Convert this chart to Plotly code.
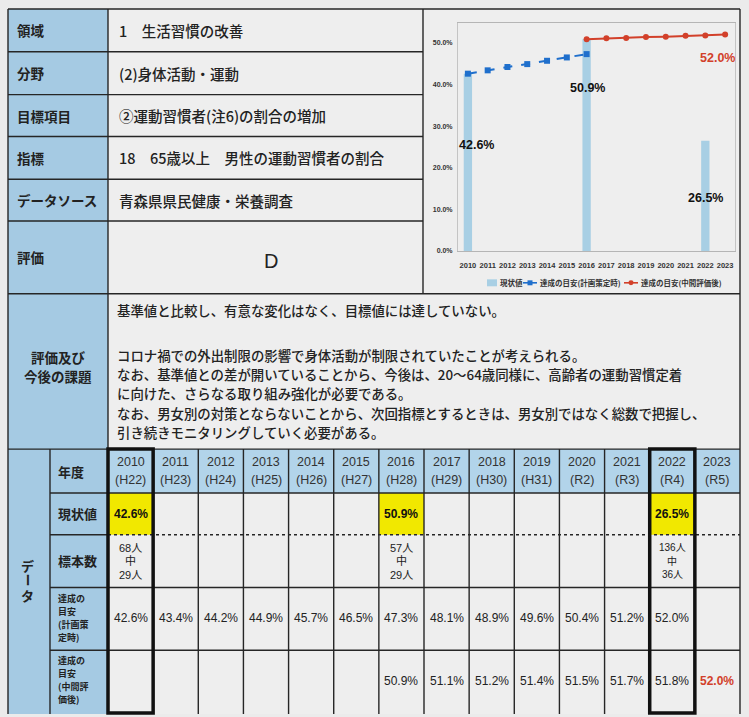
import plotly.graph_objects as go

# ---------------- data ----------------
years = list(range(2010, 2024))
era_labels = ["H22", "H23", "H24", "H25", "H26", "H27", "H28", "H29", "H30", "H31", "R2", "R3", "R4", "R5"]
current_values = [42.6, None, None, None, None, None, 50.9, None, None, None, None, None, 26.5, None]
sample_totals = [68, None, None, None, None, None, 57, None, None, None, None, None, 136, None]
sample_hits = [29, None, None, None, None, None, 29, None, None, None, None, None, 36, None]
plan_targets = [42.6, 43.4, 44.2, 44.9, 45.7, 46.5, 47.3, 48.1, 48.9, 49.6, 50.4, 51.2, 52.0, None]
mid_targets = [None, None, None, None, None, None, 50.9, 51.1, 51.2, 51.4, 51.5, 51.7, 51.8, 52.0]
chart_plan_count = 7  # plan line drawn in chart up to 2016
y_tick_values = [0, 10, 20, 30, 40, 50]

info_labels = ["領域", "分野", "目標項目", "指標", "データソース", "評価"]
info_values = ["1　生活習慣の改善", "(2)身体活動・運動", "②運動習慣者(注6)の割合の増加",
               "18　65歳以上　男性の運動習慣者の割合", "青森県県民健康・栄養調査", ""]
evaluation_grade = "D"
issue_label = ["評価及び", "今後の課題"]
issue_lines = [
    "基準値と比較し、有意な変化はなく、目標値には達していない。",
    "コロナ禍での外出制限の影響で身体活動が制限されていたことが考えられる。",
    "なお、基準値との差が開いていることから、今後は、20～64歳同様に、高齢者の運動習慣定着",
    "に向けた、さらなる取り組み強化が必要である。",
    "なお、男女別の対策とならないことから、次回指標とするときは、男女別ではなく総数で把握し、",
    "引き続きモニタリングしていく必要がある。",
]
data_section_label = ["デ", "ー", "タ"]
row_labels = [["年度"], ["現状値"], ["標本数"],
              ["達成の", "目安", "(計画策", "定時)"], ["達成の", "目安", "(中間評", "価後)"]]
series_names = ["現状値", "達成の目安(計画策定時)", "達成の目安(中間評価後)"]
highlight_years = [2010, 2022]

# ---------------- style / geometry ----------------
W, H = 749, 717
BG = "#ebebeb"
CELL = "#eeeeee"
LBLUE = "#a5cae3"
HBLUE = "#b2d4ea"
YELLOW = "#f1e800"
LINE = "#262626"
BAR_C = "#a8cfe4"
PLAN_C = "#1f6fcc"
MID_C = "#d2402a"
JP = "Noto Sans CJK JP"
NUM = "Liberation Sans, Noto Sans CJK JP"

X_LEFT, X_LAB, X_CHART, X_RIGHT = 8, 108, 423, 740
X_DATA_LAB = 50
Y_TOP = 9
INFO_ROWS = [9, 52, 95, 137, 180, 222, 295]
Y_ISSUE_BOTTOM = 451
DATA_ROWS = [451, 495, 537, 590, 653, 717]
ncol = len(years)
COLS = [X_LAB + (X_RIGHT - X_LAB) * i / ncol for i in range(ncol + 1)]


def fx(x):
    return x / W


def fy(y):
    return 1 - y / H


shapes = []
annotations = []


def rect(x0, y0, x1, y1, fill, lw=0, lc=None, layer="below"):
    shapes.append(dict(type="rect", xref="paper", yref="paper",
                       x0=fx(x0), x1=fx(x1), y0=fy(y1), y1=fy(y0),
                       fillcolor=fill, line=dict(width=lw, color=lc or "rgba(0,0,0,0)"), layer=layer))


def seg(x0, y0, x1, y1, w=1.4, color=LINE, dash="solid"):
    shapes.append(dict(type="line", xref="paper", yref="paper",
                       x0=fx(x0), x1=fx(x1), y0=fy(y0), y1=fy(y1),
                       line=dict(width=w, color=color, dash=dash), layer="above"))


def text(x, y, s, size, color="#222", weight=400, anchor="left", family=JP, angle=0):
    annotations.append(dict(xref="paper", yref="paper", x=fx(x), y=fy(y), text=s, showarrow=False,
                            xanchor=anchor, yanchor="middle", textangle=angle, borderpad=0,
                            font=dict(size=size, color=color, family=family, weight=weight)))


def lines(x, ys, parts, size, **kw):
    for s, y in zip(parts, ys):
        text(x, y, s, size, **kw)


# backgrounds
rect(X_LEFT, Y_TOP, X_LAB, DATA_ROWS[-1], LBLUE)
rect(X_LAB, Y_TOP, X_CHART, INFO_ROWS[-1], CELL)
rect(X_CHART, Y_TOP, X_RIGHT, INFO_ROWS[-1], CELL)
rect(X_LAB, INFO_ROWS[-1], X_RIGHT, Y_ISSUE_BOTTOM, CELL)
rect(X_LAB, DATA_ROWS[0], X_RIGHT, DATA_ROWS[1], HBLUE)
rect(X_LAB, DATA_ROWS[1], X_RIGHT, DATA_ROWS[-1], CELL)
for i, v in enumerate(current_values):
    if v is not None:
        rect(COLS[i], DATA_ROWS[1], COLS[i + 1], DATA_ROWS[2], YELLOW)

# info section lines
seg(X_LEFT, Y_TOP, X_RIGHT, Y_TOP)
for y in INFO_ROWS[1:-1]:
    seg(X_LEFT, y, X_CHART, y)
seg(X_LEFT, INFO_ROWS[-1], X_RIGHT, INFO_ROWS[-1])
seg(X_LEFT, Y_ISSUE_BOTTOM, X_RIGHT, Y_ISSUE_BOTTOM)
seg(X_LEFT, Y_TOP, X_LEFT, DATA_ROWS[-1])
seg(X_LAB, Y_TOP, X_LAB, DATA_ROWS[-1])
seg(X_CHART, Y_TOP, X_CHART, INFO_ROWS[-1])
seg(X_RIGHT, Y_TOP, X_RIGHT, DATA_ROWS[-1])

# data section lines
seg(X_DATA_LAB, DATA_ROWS[0], X_DATA_LAB, DATA_ROWS[-1])
for k, y in enumerate(DATA_ROWS[1:-1], start=1):
    if k == 2:
        seg(X_DATA_LAB, y, X_LAB, y)
        seg(X_LAB, y, X_RIGHT, y, dash="dot")
    else:
        seg(X_DATA_LAB, y, X_RIGHT, y)
for x in COLS[1:-1]:
    seg(x, DATA_ROWS[0], x, DATA_ROWS[-1])
for yr in highlight_years:
    i = years.index(yr)
    shapes.append(dict(type="rect", xref="paper", yref="paper",
                       x0=fx(COLS[i]), x1=fx(COLS[i + 1]), y0=fy(DATA_ROWS[-1] - 1), y1=fy(DATA_ROWS[0]),
                       line=dict(width=3.5, color="#111"), fillcolor="rgba(0,0,0,0)", layer="above"))

# info text
for i, (lab, val) in enumerate(zip(info_labels, info_values)):
    yc = (INFO_ROWS[i] + INFO_ROWS[i + 1]) / 2
    text(16, yc, lab, 13.5, weight=700)
    if val:
        text(118, yc, val, 14.5, weight=500)
text((X_LAB + X_CHART) / 2 - 3, 262, evaluation_grade, 20, family="Liberation Sans", weight=400)

# issue section
lines((X_LEFT + X_LAB) / 2, [358, 378], issue_label, 13.5, weight=700, anchor="center")
issue_y = [311, 356, 375.5, 395, 414.5, 434]
for s, y in zip(issue_lines, issue_y):
    text(116, y, s, 13.4, weight=500)

# data section labels
for ch, y in zip(data_section_label, [568, 583, 598]):
    text(28, y, ch, 13, weight=700, anchor="center", angle=90 if ch == "ー" else 0)
row_label_y = [[473], [516], [563], [601.5, 614.5, 627.5, 640.5], [663, 676, 689, 702]]
for parts, ys in zip(row_labels, row_label_y):
    size = 13 if len(parts) == 1 else 9
    lines(57, ys, parts, size, weight=700)

# data cells
for i, yr in enumerate(years):
    xc = (COLS[i] + COLS[i + 1]) / 2
    lines(xc, [464, 482], [str(yr), f"({era_labels[i]})"], 12.5, color="#333", anchor="center", family=NUM)
    if current_values[i] is not None:
        text(xc, 516, f"{current_values[i]:.1f}%", 12, color="#111", weight=700, anchor="center", family=NUM)
    if sample_totals[i] is not None:
        sz = 11 if sample_totals[i] < 100 else 10
        lines(xc, [550, 563.5, 577], [f"{sample_totals[i]}人", "中", f"{sample_hits[i]}人"], sz,
              color="#222", anchor="center", family=NUM)
    if plan_targets[i] is not None:
        text(xc, 621, f"{plan_targets[i]:.1f}%", 12, color="#222", anchor="center", family=NUM)
    if mid_targets[i] is not None:
        last = i == ncol - 1
        text(xc, 684, f"{mid_targets[i]:.1f}%", 12, color=MID_C if last else "#222",
             weight=700 if last else 400, anchor="center", family=NUM)

# ---------------- chart ----------------
fig = go.Figure()
fig.add_trace(go.Bar(x=years, y=current_values, name=series_names[0], width=0.42,
                     marker=dict(color=BAR_C, line=dict(width=0))))
fig.add_trace(go.Scatter(x=years[:chart_plan_count], y=plan_targets[:chart_plan_count], name=series_names[1],
                         mode="lines+markers", line=dict(color=PLAN_C, width=2, dash="dash"),
                         marker=dict(symbol="square", size=6, color=PLAN_C)))
mid_idx = [i for i, v in enumerate(mid_targets) if v is not None]
fig.add_trace(go.Scatter(x=[years[i] for i in mid_idx], y=[mid_targets[i] for i in mid_idx], name=series_names[2],
                         mode="lines+markers", line=dict(color=MID_C, width=2),
                         marker=dict(symbol="circle", size=6, color=MID_C)))

# value labels (offsets in px)
label_offsets = {2010: (9, -71), 2016: (1, -49), 2022: (0, -57)}
for i, v in enumerate(current_values):
    if v is not None:
        dx, dy = label_offsets[years[i]]
        fig.add_annotation(x=years[i], y=v, xref="x", yref="y", text=f"{v:.1f}%", showarrow=False,
                           xshift=dx, yshift=dy, font=dict(size=12.5, color="#111", family="Liberation Sans", weight=700))
fig.add_annotation(x=years[mid_idx[-1]], y=mid_targets[mid_idx[-1]], xref="x", yref="y",
                   text=f"{mid_targets[mid_idx[-1]]:.1f}%", showarrow=False, xshift=-8, yshift=-23,
                   font=dict(size=12.5, color=MID_C, family="Liberation Sans", weight=700))

# compact legend (drawn as shapes + text)
LEG_Y = 284
rect(487, LEG_Y - 3.5, 497, LEG_Y + 3.5, BAR_C, layer="above")
text(499, LEG_Y, series_names[0], 7.5, color="#333", weight=700)
seg(523, LEG_Y, 537, LEG_Y, w=1.6, color=PLAN_C)
rect(527.5, LEG_Y - 2.5, 532.5, LEG_Y + 2.5, PLAN_C, layer="above")
text(539, LEG_Y, series_names[1], 7.5, color="#333", weight=700)
seg(624, LEG_Y, 638, LEG_Y, w=1.6, color=MID_C)
shapes.append(dict(type="circle", xref="paper", yref="paper", x0=fx(628.5), x1=fx(633.5),
                   y0=fy(LEG_Y + 2.5), y1=fy(LEG_Y - 2.5), fillcolor=MID_C, line=dict(width=0), layer="above"))
text(640, LEG_Y, series_names[2], 7.5, color="#333", weight=700)

fig.update_layout(
    width=W, height=H, margin=dict(l=0, r=0, t=0, b=0),
    paper_bgcolor=BG, plot_bgcolor="rgba(0,0,0,0)",
    shapes=shapes, annotations=list(fig.layout.annotations) + annotations,
    showlegend=False,
    bargap=0.5,
)
fig.update_xaxes(domain=[fx(458), fx(735)], range=[2009.5, 2023.5], tickvals=years,
                 ticktext=[str(y) for y in years], tickfont=dict(size=7.5, color="#333", family="Liberation Sans", weight=700),
                 showgrid=False, zeroline=False, showline=True, linecolor="#b5b5b5", linewidth=1, mirror=True,
                 ticks="", ticklabelstandoff=7, fixedrange=True)
fig.update_yaxes(domain=[fy(252), fy(23)], range=[0, 54.8], tickvals=y_tick_values,
                 ticktext=[f"{v:.1f}%" for v in y_tick_values],
                 tickfont=dict(size=7, color="#333", family="Liberation Sans", weight=700),
                 showgrid=False, zeroline=False, showline=True, linecolor="#c4c4c4", linewidth=1, mirror=True,
                 ticks="", ticklabelstandoff=3, fixedrange=True)

fig.write_html("out.html")
